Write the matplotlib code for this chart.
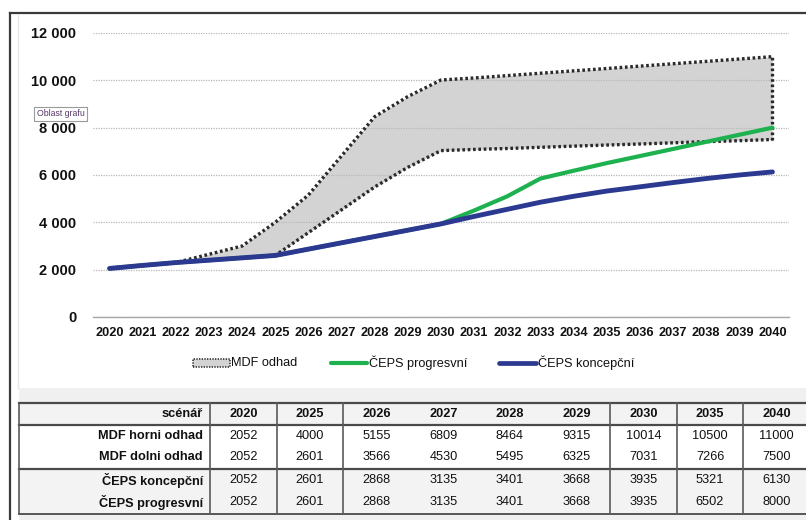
import matplotlib
matplotlib.use("Agg")
import matplotlib.pyplot as plt
from matplotlib.lines import Line2D
from matplotlib.patches import Rectangle
from matplotlib.ticker import FuncFormatter

plt.rcParams['font.family'] = ['Liberation Sans', 'DejaVu Sans']

# ---------------- data ----------------
years = list(range(2020, 2041))
mdf_upper = [2052, 2170, 2300, 2650, 3000, 4000, 5155, 6809, 8464, 9315, 10014,
             10100, 10200, 10300, 10400, 10500, 10600, 10700, 10800, 10900, 11000]
mdf_lower = [2052, 2180, 2300, 2400, 2500, 2601, 3566, 4530, 5495, 6325, 7031,
             7080, 7120, 7170, 7220, 7266, 7310, 7360, 7410, 7450, 7500]
ceps_koncepcni = [2052, 2180, 2300, 2400, 2500, 2601, 2868, 3135, 3401, 3668, 3935,
                  4250, 4550, 4850, 5100, 5321, 5500, 5680, 5850, 6000, 6130]
ceps_progresivni = [2052, 2180, 2300, 2400, 2500, 2601, 2868, 3135, 3401, 3668, 3935,
                    4500, 5100, 5850, 6180, 6502, 6800, 7100, 7400, 7700, 8000]
table_years = [2020, 2025, 2026, 2027, 2028, 2029, 2030, 2035, 2040]
table_rows = ["MDF horni odhad", "MDF dolni odhad", "ČEPS koncepční", "ČEPS progresvní"]
table_series = [mdf_upper, mdf_lower, ceps_koncepcni, ceps_progresivni]
legend_labels = ["MDF odhad", "ČEPS progresvní", "ČEPS koncepční"]
y_ticks = [0, 2000, 4000, 6000, 8000, 10000, 12000]

# ---------------- figure ----------------
W, H = 806, 520
fig = plt.figure(figsize=(W / 100, H / 100), dpi=100)

def fx(x):
    return x / W

def fy(y):
    return 1 - y / H

# backgrounds and frame
fig.patches.append(Rectangle((fx(19), 0), 1 - fx(19), fy(388), transform=fig.transFigure,
                             facecolor='#f0f0f0', edgecolor='none', zorder=0))
fig.lines.append(Line2D([fx(10), 1], [fy(13), fy(13)], transform=fig.transFigure,
                        color='#3a3a3a', lw=1.6))
fig.lines.append(Line2D([fx(10), fx(10)], [fy(13), 0], transform=fig.transFigure,
                        color='#3a3a3a', lw=1.6))
fig.lines.append(Line2D([fx(18), fx(18)], [fy(15), fy(388)], transform=fig.transFigure,
                        color='#e6e6e6', lw=1.0))

# ---------------- chart ----------------
ax = fig.add_axes([fx(93), fy(317), fx(789) - fx(93), fy(33) - fy(317)])
ax.set_facecolor('none')
ax.set_xlim(2019.5, 2040.5)
ax.set_ylim(0, 12000)

ax.fill_between(years, mdf_lower, mdf_upper, color='#d3d3d3', lw=0, zorder=1)
dot = (0, (0.8, 0.8))
ax.plot(years, mdf_upper, color='#2a2a2a', lw=2.4, ls=dot, zorder=2)
ax.plot(years, mdf_lower, color='#2a2a2a', lw=2.4, ls=dot, zorder=2)
ax.plot([years[-1], years[-1]], [mdf_lower[-1], mdf_upper[-1]], color='#2a2a2a',
        lw=2.4, ls=dot, zorder=2)
ax.plot(years, ceps_progresivni, color='#1db14f', lw=3.0, solid_capstyle='round', zorder=3)
ax.plot(years, ceps_koncepcni, color='#2b3990', lw=3.5, solid_capstyle='round', zorder=4)

ax.set_yticks(y_ticks)
ax.yaxis.set_major_formatter(FuncFormatter(lambda v, p: f"{int(v):,}".replace(",", " ")))
ax.set_xticks(years)
ax.grid(axis='y', color='#b8b8b8', ls=(0, (1, 1)), lw=0.9, zorder=0)
for s in ['left', 'right', 'top']:
    ax.spines[s].set_visible(False)
ax.spines['bottom'].set_color('#a6a6a6')
ax.spines['bottom'].set_linewidth(1.0)
ax.tick_params(axis='y', length=0, pad=12, labelsize=10.5)
ax.tick_params(axis='x', length=0, pad=7, labelsize=9.2)
for lab in ax.get_xticklabels() + ax.get_yticklabels():
    lab.set_fontweight('bold')
    lab.set_color('#111111')

# "Oblast grafu" tooltip
fig.text(fx(37), fy(114), "Oblast grafu", fontsize=6.3, color='#5a3a6a', va='center', ha='left',
         bbox=dict(boxstyle='square,pad=0.3', facecolor='white', edgecolor='#9a9a9a', lw=0.8))

# ---------------- legend ----------------
ly = fy(363)
fig.patches.append(Rectangle((fx(193), fy(367)), fx(37), fy(359) - fy(367), transform=fig.transFigure,
                             facecolor='#d3d3d3', edgecolor='#333333', lw=1.2, ls=(0, (0.8, 0.8))))
fig.text(fx(231), ly, legend_labels[0], fontsize=9.2, va='center', ha='left', color='#111111')
fig.lines.append(Line2D([fx(331), fx(367)], [ly, ly], transform=fig.transFigure,
                        color='#1db14f', lw=3.0, solid_capstyle='round'))
fig.text(fx(369), ly, legend_labels[1], fontsize=9.2, va='center', ha='left', color='#111111')
fig.lines.append(Line2D([fx(499), fx(536)], [ly, ly], transform=fig.transFigure,
                        color='#2b3990', lw=3.4, solid_capstyle='round'))
fig.text(fx(538), ly, legend_labels[2], fontsize=9.2, va='center', ha='left', color='#111111')

# ---------------- table ----------------
t_left, t_right = 19, 806
t_top, t_head, t_mid, t_bot = 403, 425, 469, 514
col_edges = [19, 210, 277, 343, 410, 477, 543, 610, 677, 743, 810]
row_centers = [436, 457, 480, 502]

fig.patches.append(Rectangle((fx(t_left), fy(t_bot)), 1 - fx(t_left), fy(t_top) - fy(t_bot),
                             transform=fig.transFigure, facecolor='#f3f3f3', edgecolor='none', zorder=1))
fig.patches.append(Rectangle((fx(t_left), fy(t_mid)), 1 - fx(t_left), fy(t_head) - fy(t_mid),
                             transform=fig.transFigure, facecolor='white', edgecolor='none', zorder=1))

def hline(y, lw=1.3, c='#4a4a4a'):
    fig.lines.append(Line2D([fx(t_left), 1], [fy(y), fy(y)], transform=fig.transFigure,
                            color=c, lw=lw, zorder=3))

def vline(x, lw=1.2, c='#5a5a5a'):
    fig.lines.append(Line2D([fx(x), fx(x)], [fy(t_top), fy(t_bot)], transform=fig.transFigure,
                            color=c, lw=lw, zorder=3))

hline(t_top, 1.6)
hline(t_head, 1.6)
hline(t_mid, 1.6)
hline(t_bot, 1.3)
for x in [19, 210, 277, 343, 610, 677, 743]:
    vline(x)

fig.text(fx(203), fy(414), "scénář", fontsize=9.2, fontweight='bold', ha='right', va='center',
         color='#111111', zorder=4)
for i, yr in enumerate(table_years):
    cx = (col_edges[i + 1] + col_edges[i + 2]) / 2
    fig.text(fx(cx), fy(414), str(yr), fontsize=9.2, fontweight='bold', ha='center', va='center',
             color='#111111', zorder=4)
for r, (name, series) in enumerate(zip(table_rows, table_series)):
    yc = fy(row_centers[r])
    fig.text(fx(203), yc, name, fontsize=9.2, fontweight='bold', ha='right', va='center',
             color='#111111', zorder=4)
    for i, yr in enumerate(table_years):
        cx = (col_edges[i + 1] + col_edges[i + 2]) / 2
        val = series[years.index(yr)]
        fig.text(fx(cx), yc, str(val), fontsize=9.2, ha='center', va='center',
                 color='#111111', zorder=4)

fig.savefig("out.png", dpi=100)
